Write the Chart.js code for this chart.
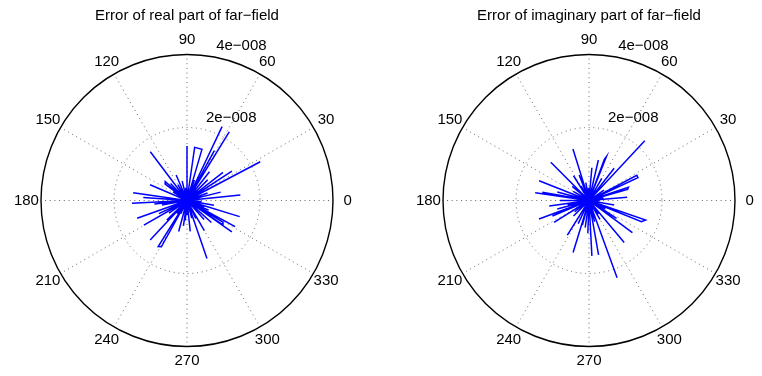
<!DOCTYPE html>
<html>
<head>
<meta charset="utf-8">
<script src="https://cdn.jsdelivr.net/npm/chart.js@4/dist/chart.umd.min.js"></script>
<style>
  body { margin: 0; background: #fff; }
  #wrap { display: flex; width: 762px; height: 376px; }
  canvas { display: block; }
</style>
</head>
<body>
<div id="wrap">
  <canvas id="realChart" width="381" height="376"></canvas>
  <canvas id="imagChart" width="381" height="376"></canvas>
</div>
<script>
// radii are in units of 1e-8, angles in degrees; rho 0 = back through the origin
const rMax = 4;
const ringValues = [2, 4];
const ringLabels = ['2e\u2212008', '4e\u2212008'];
const spokeAngles = [0, 30, 60, 90, 120, 150, 180, 210, 240, 270, 300, 330];

const realTheta = [0, 64.6, 0, 58.4, 0, 27.9, 0, 127, 0, 90, 0, 81.8, 73.7, 0, 61.3, 0, 33.2, 0,
  38, 0, 5.9, 0, 14, 0, 171.8, 0, 182.9, 0, 176, 0, 199.6, 0, 209.7, 0, 227, 0, 238, 241, 0,
  224, 0, 255, 0, 265, 0, 276, 0, 289, 0, 300, 0, 312, 0, 325, 0, 326, 329, 0, 331.5, 0,
  343, 0, 350, 0, 157, 0, 139, 143, 0, 113, 0, 104, 0, 120, 0, 45, 0, 52, 0, 70, 0, 20, 0,
  190, 0, 215, 0, 245, 0, 285, 0, 340, 0, 148, 0, 134, 0, 96, 0, 42, 0, 10, 0, 186, 0,
  205, 0, 232, 0, 262, 0, 270, 0, 296, 0, 318, 0, 336, 0, 356, 0];
const realRho = [0, 2.24, 0, 2.21, 0, 2.27, 0, 1.67, 0, 1.49, 0, 1.47, 1.46, 0, 1.56, 0, 1.47, 0,
  1.25, 0, 1.47, 0, 0.95, 0, 1.49, 0, 1.51, 0, 1.2, 0, 1.45, 0, 1.36, 0, 1.48, 0, 1.49, 1.45, 0,
  0.77, 0, 0.88, 0, 0.55, 0, 0.85, 0, 1.68, 0, 0.95, 0, 0.7, 0, 1.5, 0, 1.19, 1.15, 0, 1.5, 0,
  1.51, 0, 0.75, 0, 1.1, 0, 0.79, 0.75, 0, 0.76, 0, 0.55, 0, 0.5, 0, 0.8, 0, 1.0, 0, 0.6, 0, 0.6, 0,
  0.7, 0, 0.6, 0, 0.4, 0, 0.5, 0, 0.5, 0, 0.45, 0, 0.65, 0, 0.35, 0, 0.4, 0, 0.35, 0, 0.9, 0,
  0.85, 0, 0.45, 0, 0.7, 0, 0.4, 0, 0.55, 0, 0.9, 0, 0.65, 0, 0.4, 0];

const imagTheta = [0, 47, 0, 135, 0, 107.3, 0, 171.8, 0, 158.4, 0, 200.3, 0, 188, 0, 170, 0,
  212, 0, 203, 0, 238, 0, 253, 0, 273, 0, 280, 0, 290, 0, 310, 0, 323.4, 0, 341, 338, 0,
  327, 0, 25, 27.7, 0, 4.8, 0, 18.5, 16, 0, 52, 0, 68.4, 69.5, 0, 77, 0, 85, 0, 111, 0,
  122, 0, 140, 0, 262, 0, 255, 0, 225, 0, 300, 0, 350, 0, 195, 0, 180, 0, 60, 0, 35, 0, 100, 0, 0, 0,
  150, 0, 165, 0, 192, 0, 218, 0, 245, 0, 268, 0, 285, 0, 305, 0, 333, 0, 10, 0, 92, 0, 118, 0];
const imagRho = [0, 2.24, 0, 1.48, 0, 1.48, 0, 1.49, 0, 1.47, 0, 1.46, 0, 1.1, 0, 1.3, 0,
  1.13, 0, 1.09, 0, 1.12, 0, 1.49, 0, 1.52, 0, 1.51, 0, 2.25, 0, 1.5, 0, 1.48, 0, 1.64, 1.55, 0,
  0.9, 0, 1.48, 1.48, 0, 1.05, 0, 1.14, 1.1, 0, 1.12, 0, 1.29, 1.2, 0, 1.14, 0, 0.9, 0, 0.75, 0,
  0.8, 0, 0.6, 0, 0.75, 0, 0.7, 0, 0.6, 0, 0.6, 0, 0.7, 0, 0.9, 0, 0.8, 0, 0.7, 0, 0.5, 0, 0.5, 0, 0.3, 0,
  0.5, 0, 0.9, 0, 0.6, 0, 0.5, 0, 0.7, 0, 0.9, 0, 0.6, 0, 0.45, 0, 0.5, 0, 0.4, 0, 0.35, 0, 0.45, 0];

const FONT = '15px "Liberation Sans", Arial, sans-serif';

function toXY(theta, rho) {
  return theta.map((t, i) => ({
    x: rho[i] * Math.cos(t * Math.PI / 180),
    y: rho[i] * Math.sin(t * Math.PI / 180)
  }));
}

function polarFrame(title) {
  return {
    id: 'polarFrame',
    beforeDatasetsDraw(chart) {
      const ctx = chart.ctx;
      const xs = chart.scales.x, ys = chart.scales.y;
      const cx = xs.getPixelForValue(0), cy = ys.getPixelForValue(0);
      const R = xs.getPixelForValue(rMax) - cx;
      ctx.save();
      // dotted spokes and inner rings
      ctx.strokeStyle = '#666';
      ctx.lineWidth = 1;
      ctx.setLineDash([1, 3.7]);
      spokeAngles.forEach(a => {
        const rad = a * Math.PI / 180;
        ctx.beginPath();
        ctx.moveTo(cx, cy);
        ctx.lineTo(cx + R * Math.cos(rad), cy - R * Math.sin(rad));
        ctx.stroke();
      });
      ringValues.slice(0, -1).forEach(v => {
        ctx.beginPath();
        ctx.arc(cx, cy, xs.getPixelForValue(v) - cx, 0, 2 * Math.PI);
        ctx.stroke();
      });
      // outer circle
      ctx.setLineDash([]);
      ctx.strokeStyle = '#000';
      ctx.lineWidth = 1.4;
      ctx.beginPath();
      ctx.arc(cx, cy, R, 0, 2 * Math.PI);
      ctx.stroke();
      // angle labels
      ctx.fillStyle = '#000';
      ctx.font = FONT;
      ctx.textAlign = 'center';
      ctx.textBaseline = 'middle';
      spokeAngles.forEach(a => {
        const rad = a * Math.PI / 180;
        ctx.fillText(String(a), cx + 1.1 * R * Math.cos(rad), cy - 1.1 * R * Math.sin(rad));
      });
      // ring labels at 82 degrees
      ctx.textAlign = 'left';
      ctx.textBaseline = 'bottom';
      const c82 = Math.cos(82 * Math.PI / 180), s82 = Math.sin(82 * Math.PI / 180);
      ringValues.forEach((v, i) => {
        const rp = xs.getPixelForValue(v + rMax / 40) - cx;
        ctx.fillText('  ' + ringLabels[i], cx + rp * c82, cy - rp * s82 + 1);
      });
      // title
      ctx.textAlign = 'center';
      ctx.textBaseline = 'middle';
      ctx.fillText(title, cx, 16);
      ctx.restore();
    }
  };
}

function makePolar(id, theta, rho, title, pad) {
  return new Chart(document.getElementById(id), {
    type: 'scatter',
    data: {
      datasets: [{
        data: toXY(theta, rho),
        showLine: true,
        borderColor: '#0000ff',
        borderWidth: 1.5,
        pointRadius: 0,
        tension: 0
      }]
    },
    options: {
      responsive: false,
      animation: false,
      layout: { padding: pad },
      scales: {
        x: { type: 'linear', min: -rMax, max: rMax, display: false },
        y: { type: 'linear', min: -rMax, max: rMax, display: false }
      },
      plugins: { legend: { display: false }, tooltip: { enabled: false } }
    },
    plugins: [polarFrame(title)]
  });
}

makePolar('realChart', realTheta, realRho, 'Error of real part of far\u2212field',
  { left: 41, right: 48, top: 54.5, bottom: 29.5 });
makePolar('imagChart', imagTheta, imagRho, 'Error of imaginary part of far\u2212field',
  { left: 62, right: 27, top: 54.5, bottom: 29.5 });
</script>
</body>
</html>
